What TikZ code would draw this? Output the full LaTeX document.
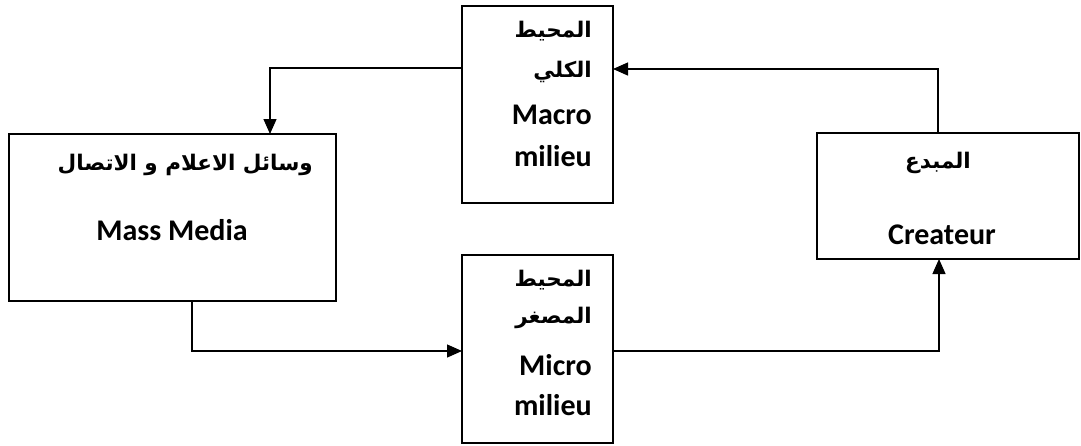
\documentclass[tikz,border=0pt]{standalone}
\usepackage{fontspec}
\setmainfont{Carlito}
\newfontfamily\arabicfont[Script=Arabic]{DejaVu Sans}
\TeXXeTstate=1
\usetikzlibrary{arrows.meta}
\tikzset{
  box/.style={draw, line width=1.5pt, anchor=north west, inner sep=0pt, outer sep=0pt},
  arr/.style={line width=1.3pt, -{Triangle[length=15pt,width=13pt]}},
  lat/.style={font=\fontsize{30}{32}\selectfont\bfseries, inner sep=0pt},
  ara/.style={font=\fontsize{21.5}{26}\selectfont\arabicfont\bfseries, inner sep=0pt},
}
\begin{document}
\begin{tikzpicture}[x=1pt,y=-1pt]
\useasboundingbox (0,0) rectangle (1081,445);
% boxes
\node[box, minimum width=151pt, minimum height=197pt] (macro) at (462,6) {};
\node[box, minimum width=151pt, minimum height=188pt] (micro) at (462,255) {};
\node[box, minimum width=327pt, minimum height=167pt] (mm) at (9,134) {};
\node[box, minimum width=262pt, minimum height=126pt] (cr) at (817,133) {};
% texts macro
\node[ara, anchor=east] (t1) at (592,31) {\beginR المحيط\endR};
\node[ara, anchor=east] (t2) at (592,72) {\beginR الكلي\endR};
\node[lat, anchor=east] (t3) at (592,115) {Macro};
\node[lat, anchor=east] (t4) at (592,156) {milieu};
% texts micro
\node[ara, anchor=east] (t5) at (592,280) {\beginR المحيط\endR};
\node[ara, anchor=east] (t6) at (592,318) {\beginR المصغر\endR};
\node[lat, anchor=east] (t7) at (592,365) {Micro};
\node[lat, anchor=east] (t8) at (592,405) {milieu};
% mass media
\node[ara, anchor=east] (t9) at (313,165) {\beginR وسائل الاعلام و الاتصال\endR};
\node[lat] (t10) at (172,230) {Mass Media};
% createur
\node[ara] (t11) at (938,163) {\beginR المبدع\endR};
\node[lat] (t12) at (942,235) {Createur};
% connector bend points
\coordinate (c1) at (270,68);
\coordinate (c2) at (938,69);
\coordinate (c3) at (192,351);
\coordinate (c4) at (939,351);
\draw[arr] (macro.west |- c1) -| (c1 |- mm.north);
\draw[arr] (cr.north -| c2) |- (macro.east |- c2);
\draw[arr] (mm.south -| c3) |- (micro.west |- c3);
\draw[arr] (micro.east |- c4) -| (c4 |- cr.south);
\end{tikzpicture}
\end{document}
